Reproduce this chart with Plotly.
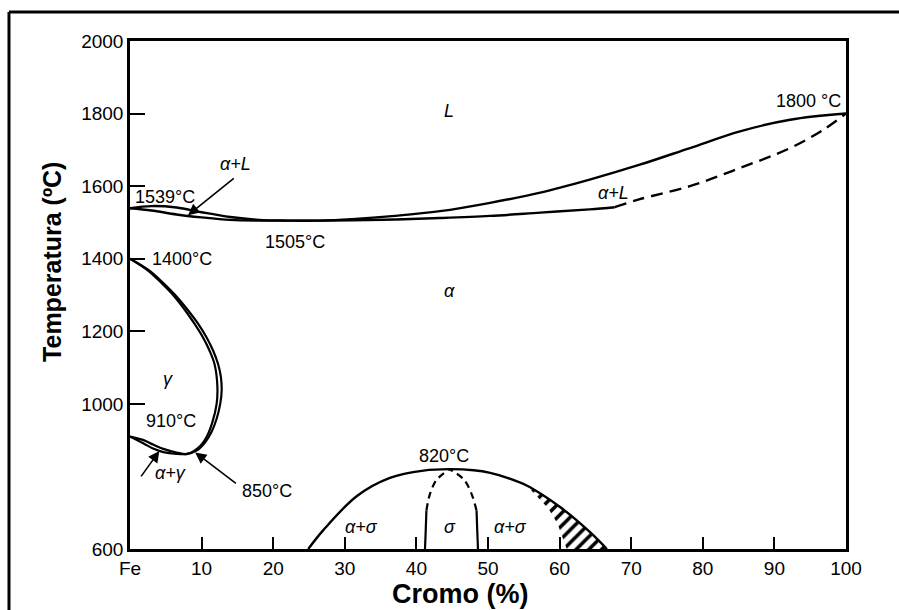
import plotly.graph_objects as go

# Fe-Cr equilibrium diagram: composition in % Cr, temperature in degC

# liquidus (upper) and solidus (lower) of the alpha + L region
liq_cr = [0, 3, 6.5, 10, 14, 18, 22, 26.5, 31, 37, 43.3, 50.3, 57.3, 64.2, 71.2, 78.2, 85.2, 92.2, 100]
liq_t = [1539, 1545, 1541, 1528, 1515, 1507, 1505, 1505, 1509, 1518, 1531, 1554, 1582, 1618, 1659, 1705, 1751, 1783, 1800]

sol_cr = [0, 3, 6.5, 10, 14, 18, 22, 26.5, 31, 37, 43.3, 50.3, 57.3, 64.2, 67.7]
sol_t = [1539, 1533, 1522, 1514, 1507, 1505, 1505, 1505, 1506, 1508, 1512, 1518, 1527, 1536, 1542]
sol_dash_cr = [67.7, 71.2, 78.2, 85.2, 92.2, 96.8, 100]
sol_dash_t = [1542, 1564, 1600, 1650, 1705, 1755, 1800]

# gamma loop: outer (alpha side) and inner (gamma side) boundaries
loop_a_cr = [0, 2.8, 4.65, 6.5, 8.1, 9.5, 10.7, 11.6, 12.3, 12.7, 12.8, 12.6, 12.1, 11.4, 10.5, 9.3, 8.0, 6.5, 4.65, 3.3, 1.9, 0]
loop_a_t = [1400, 1366, 1333, 1296, 1258, 1221, 1183, 1147, 1110, 1073, 1036, 1000, 959, 923, 894, 871, 862, 862, 867, 876, 891, 910]
loop_g_cr = [0, 2.6, 4.4, 6.2, 7.7, 9.0, 10.2, 11.1, 11.8, 12.2, 12.1, 11.5, 10.8, 9.8, 8.0, 6.5, 4.65, 3.3, 1.9, 0]
loop_g_t = [1400, 1366, 1333, 1296, 1258, 1221, 1183, 1147, 1110, 1050, 1000, 949, 913, 884, 862, 866, 876, 887, 900, 910]

# sigma dome and the sigma single-phase boundaries
dome_cr = [24.9, 27.0, 31.7, 36.3, 41.0, 44.6, 48.0, 50.3, 52.6, 55.4, 57.7, 60.1, 62.4, 64.7, 66.6]
dome_t = [600, 652, 746, 796, 816, 820, 817, 810, 797, 775, 748, 715, 679, 638, 600]
sig_l_cr = [41.2, 41.3, 41.4]
sig_l_t = [600, 650, 706]
sig_l_dash_cr = [41.4, 41.9, 42.8, 44.6]
sig_l_dash_t = [706, 752, 790, 820]
sig_r_cr = [48.6, 48.5, 48.4]
sig_r_t = [600, 650, 706]
sig_r_dash_cr = [48.4, 47.7, 46.6, 44.6]
sig_r_dash_t = [706, 752, 792, 820]

# hatched band inside the right flank of the dome
hatch_cr = [55.4, 57.7, 60.1, 62.4, 64.7, 66.6, 61.0, 60.4, 59.7, 58.4, 56.8, 55.4]
hatch_t = [775, 748, 715, 679, 638, 600, 600, 630, 670, 712, 745, 775]

x_ticks = [0, 10, 20, 30, 40, 50, 60, 70, 80, 90, 100]
x_labels = ["Fe", "10", "20", "30", "40", "50", "60", "70", "80", "90", "100"]
y_ticks = [600, 1000, 1200, 1400, 1600, 1800, 2000]
y_labels = ["600", "1000", "1200", "1400", "1600", "1800", "2000"]

FONT = "Liberation Sans, Arial, sans-serif"
BLACK = "#000000"

fig = go.Figure()


def curve(x, y, dash="solid", width=2.4, smooth=1.0):
    fig.add_trace(go.Scatter(
        x=x, y=y, mode="lines",
        line=dict(color=BLACK, width=width, dash=dash, shape="spline", smoothing=smooth),
        hoverinfo="skip", showlegend=False,
    ))


fig.add_trace(go.Scatter(
    x=hatch_cr, y=hatch_t, mode="lines", fill="toself",
    fillcolor="white",
    fillpattern=dict(shape="/", fgcolor=BLACK, fgopacity=1, bgcolor="white",
                     size=9, solidity=0.4, fillmode="replace"),
    line=dict(width=0, color="rgba(0,0,0,0)"),
    hoverinfo="skip", showlegend=False,
))

curve(liq_cr, liq_t)
curve(sol_cr, sol_t)
curve(sol_dash_cr, sol_dash_t, dash="12px,7px")
curve(loop_a_cr, loop_a_t, width=2.2)
curve(loop_g_cr, loop_g_t, width=2.2)
curve(dome_cr, dome_t)
curve(sig_l_cr, sig_l_t, width=2.2)
curve(sig_r_cr, sig_r_t, width=2.2)
curve(sig_l_dash_cr, sig_l_dash_t, dash="7px,5px", width=2.2)
curve(sig_r_dash_cr, sig_r_dash_t, dash="7px,5px", width=2.2)

# region and point labels: (text, Cr, T)
labels = [
    ("<i>L</i>", 44.6, 1808),
    ("1800 °C", 94.7, 1834),
    ("<i>α+L</i>", 14.7, 1660),
    ("1539°C", 4.9, 1570),
    ("1505°C", 23.0, 1446),
    ("<i>α+L</i>", 67.5, 1580),
    ("1400°C", 7.3, 1400),
    ("<i>α</i>", 44.6, 1310),
    ("<i>γ</i>", 5.3, 1068),
    ("910°C", 5.7, 954),
    ("<i>α+γ</i>", 5.6, 810),
    ("850°C", 19.1, 760),
    ("820°C", 43.8, 855),
    ("<i>α+σ</i>", 32.4, 660),
    ("<i>σ</i>", 44.7, 660),
    ("<i>α+σ</i>", 53.1, 660),
]
for txt, cx, ty in labels:
    fig.add_annotation(x=cx, y=ty, text=txt, showarrow=False,
                       font=dict(family=FONT, size=18, color=BLACK),
                       xanchor="center", yanchor="middle")

# pointer arrows: (tip Cr, tip T, tail Cr, tail T)
arrows = [
    (8.1, 1520, 14.7, 1625),
    (4.1, 870, 1.4, 796),
    (9.1, 866, 15.0, 778),
]
for tx, ty, sx, sy in arrows:
    fig.add_annotation(x=tx, y=ty, ax=sx, ay=sy, axref="x", ayref="y",
                       text="", showarrow=True, arrowhead=2, arrowsize=1.4,
                       arrowwidth=1.6, arrowcolor=BLACK)

# axis titles
fig.add_annotation(x=-0.109, y=0.565, xref="paper", yref="paper",
                   text="<b>Temperatura (ºC)</b>", textangle=-90, showarrow=False,
                   font=dict(family=FONT, size=25, color=BLACK),
                   xanchor="center", yanchor="middle")
fig.add_annotation(x=0.462, y=-0.088, xref="paper", yref="paper",
                   text="<b>Cromo (%)</b>", showarrow=False,
                   font=dict(family=FONT, size=27, color=BLACK),
                   xanchor="center", yanchor="middle")

# page frame on the top and left edges
fig.add_shape(type="line", xref="paper", yref="paper",
              x0=-0.169, x1=1.08, y0=1.057, y1=1.057, line=dict(color=BLACK, width=3))
fig.add_shape(type="line", xref="paper", yref="paper",
              x0=-0.169, x1=-0.169, y0=1.057, y1=-0.2, line=dict(color=BLACK, width=3))

fig.update_xaxes(
    range=[0, 100], tickvals=x_ticks, ticktext=x_labels,
    ticks="inside", ticklen=12, tickwidth=2, tickcolor=BLACK,
    showline=True, linecolor=BLACK, linewidth=2.5, mirror=True,
    showgrid=False, zeroline=False,
    tickfont=dict(family=FONT, size=19, color=BLACK),
)
fig.update_yaxes(
    range=[600, 2000], tickvals=y_ticks, ticktext=y_labels,
    ticks="inside", ticklen=15, tickwidth=2, tickcolor=BLACK,
    showline=True, linecolor=BLACK, linewidth=2.5, mirror=True,
    showgrid=False, zeroline=False,
    tickfont=dict(family=FONT, size=19, color=BLACK),
)

fig.update_layout(
    width=899, height=610,
    margin=dict(l=130, r=53, t=41, b=61),
    paper_bgcolor="white", plot_bgcolor="white",
    showlegend=False,
)

fig.write_html("out.html")
